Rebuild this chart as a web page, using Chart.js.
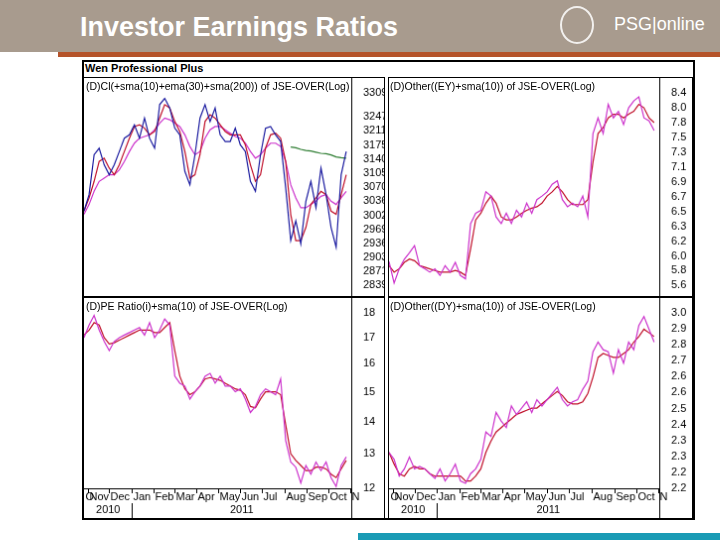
<!DOCTYPE html>
<html><head><meta charset="utf-8">
<script src="https://cdn.jsdelivr.net/npm/chart.js@4"></script>
<style>
body{margin:0;width:720px;height:540px;position:relative;background:#fff;font-family:"Liberation Sans",Arial,sans-serif;overflow:hidden}
#hdr{position:absolute;left:0;top:0;width:720px;height:52px;background:#a89b8e}
#title{position:absolute;left:80px;top:12px;color:#fff;font-weight:bold;font-size:27px}
#logo{position:absolute;left:560px;top:6px;width:30px;height:34px;border:2px solid #fff;border-radius:50%;opacity:.85}
#psg{position:absolute;left:614px;top:14px;color:#fff;font-size:18px}
#stripe{position:absolute;left:58px;top:52px;width:662px;height:5px;background:#b5532a}
#teal{position:absolute;left:358px;top:533px;width:362px;height:7px;background:#1a9bb5}
#frame{position:absolute;left:82px;top:60px;width:609px;height:456px;border:2px solid #000}
#wen{position:absolute;left:85px;top:62px;font-size:11px;font-weight:bold;color:#000}
.pc{position:absolute;border:1px solid #000;box-sizing:border-box}
.pt{position:absolute;font-size:10.5px;color:#000;white-space:nowrap}
</style></head><body>
<div id="hdr"></div><div id="title">Investor Earnings Ratios</div>
<div id="logo"></div><div id="psg">PSG<span style="font-weight:100">|</span>online</div>
<div id="stripe"></div><div id="teal"></div>
<div id="frame"></div><div id="wen">Wen Professional Plus</div>
<canvas id="c1" class="pc" style="left:83px;top:77px"></canvas>
<canvas id="c2" class="pc" style="left:388px;top:77px"></canvas>
<canvas id="c3" class="pc" style="left:83px;top:297px"></canvas>
<canvas id="c4" class="pc" style="left:388px;top:297px"></canvas>
<div class="pt" style="left:86px;top:80px">(D)Cl(+sma(10)+ema(30)+sma(200)) of JSE-OVER(Log)</div>
<div class="pt" style="left:390px;top:80px">(D)Other((EY)+sma(10)) of JSE-OVER(Log)</div>
<div class="pt" style="left:86px;top:300px">(D)PE Ratio(i)+sma(10) of JSE-OVER(Log)</div>
<div class="pt" style="left:390px;top:300px">(D)Other((DY)+sma(10)) of JSE-OVER(Log)</div>
<script>
// ---- data (weekly closes, from 27 Oct 2010) ----
const startDate = "2010-10-27";
const clClose = [30124,30521,31503,31670,31254,31007,31254,31586,31923,32008,32264,31923,32437,31923,31670,32786,32950,32700,32178,32008,31089,30763,31503,32437,32786,32350,32700,32008,31838,31838,32178,31754,31586,30844,30602,31503,32178,32221,32008,31838,30682,29424,29889,29347,30362,30844,30203,31171,30521,29733,29270,31007,31586];
const clSma10 = [30124,30441,30844,31336,31419,31171,31007,31254,31586,31923,32221,32264,32178,32008,32093,32437,32786,32700,32350,32093,31586,30925,31007,31503,32350,32524,32437,32264,32093,32008,32008,32008,31754,31254,30844,31007,31670,32008,32050,31923,31336,30045,29424,29424,29733,30282,30441,30602,30521,30124,30045,30521,31007];
const clEma30 = [30045,30282,30602,30844,30925,31007,31007,31130,31336,31586,31796,31923,31965,32008,32136,32307,32437,32394,32307,32221,32008,31712,31503,31586,31923,32136,32221,32221,32136,32050,31965,31923,31796,31586,31419,31503,31670,31796,31796,31712,31336,30763,30441,30203,30203,30282,30362,30481,30521,30362,30282,30441,30602];
const clSma200 = [null,null,null,null,null,null,null,null,null,null,null,null,null,null,null,null,null,null,null,null,null,null,null,null,null,null,null,null,null,null,null,null,null,null,null,null,null,null,null,null,null,31700,31680,31640,31610,31600,31570,31540,31530,31500,31450,31430,31420];
const eyVal = [5.89,5.63,5.80,5.92,6.00,6.09,5.84,5.80,5.76,5.80,5.72,5.84,5.76,5.88,5.72,5.68,6.38,6.52,6.56,6.82,6.76,6.47,6.38,6.52,6.38,6.56,6.47,6.66,6.52,6.71,6.76,6.82,6.93,6.98,6.71,6.61,6.66,6.61,6.76,6.47,7.71,7.97,7.71,8.20,7.97,8.08,7.86,8.14,8.26,8.33,7.97,7.92,7.76];
const eySma = [5.84,5.76,5.80,5.88,5.92,5.90,5.84,5.82,5.80,5.78,5.76,5.76,5.76,5.78,5.76,5.72,6.05,6.43,6.52,6.66,6.76,6.66,6.47,6.43,6.43,6.47,6.52,6.56,6.59,6.61,6.66,6.76,6.82,6.90,6.82,6.71,6.64,6.64,6.64,6.71,7.26,7.71,7.81,7.97,8.03,8.03,7.97,8.03,8.08,8.20,8.14,7.97,7.89];
const peVal = [17.0,17.5,17.9,17.3,16.85,16.5,16.85,17.0,17.1,17.2,17.3,17.4,17.1,17.6,17.0,17.3,17.75,17.5,15.55,15.3,15.2,14.75,15.0,15.2,15.55,15.65,15.3,15.55,15.2,15.2,15.0,15.1,14.75,14.3,14.5,14.9,15.1,15.0,14.9,15.45,13.4,12.75,12.6,12.15,12.65,12.4,12.75,12.5,12.75,12.3,12.05,12.65,12.9];
const peSma = [17.1,17.3,17.6,17.5,17.0,16.75,16.8,16.9,17.0,17.1,17.2,17.3,17.3,17.3,17.2,17.2,17.4,17.6,16.5,15.55,15.1,14.9,15.0,15.2,15.45,15.5,15.45,15.4,15.3,15.2,15.1,15.05,14.9,14.5,14.45,14.75,15.0,15.0,15.0,14.9,13.9,13.0,12.8,12.65,12.5,12.5,12.6,12.6,12.55,12.4,12.3,12.55,12.8];
const dyVal = [2.31,2.28,2.21,2.24,2.29,2.24,2.25,2.24,2.22,2.20,2.24,2.19,2.22,2.26,2.19,2.18,2.22,2.24,2.28,2.40,2.38,2.49,2.45,2.42,2.52,2.48,2.51,2.54,2.49,2.55,2.52,2.55,2.58,2.61,2.55,2.52,2.54,2.55,2.60,2.64,2.79,2.84,2.80,2.79,2.68,2.80,2.73,2.84,2.80,2.93,2.98,2.91,2.84];
const dySma = [2.31,2.26,2.22,2.21,2.24,2.25,2.24,2.24,2.22,2.21,2.21,2.21,2.21,2.21,2.21,2.19,2.19,2.21,2.24,2.31,2.36,2.40,2.42,2.44,2.46,2.48,2.49,2.50,2.51,2.51,2.53,2.55,2.57,2.59,2.57,2.54,2.53,2.53,2.54,2.58,2.66,2.76,2.78,2.77,2.76,2.76,2.78,2.80,2.84,2.87,2.91,2.89,2.87];
// tick labels
const clTicks = [33094,32470,32110,31750,31400,31050,30700,30360,30020,29690,29360,29030,28710,28391];
const eyTickLabels = ["8.4","8.0","7.8","7.5","7.3","7.1","6.9","6.7","6.5","6.3","6.2","6.0","5.8","5.6"];
const peTicks = [18,17,16,15,14,13,12];
const dyTickLabels = ["3.0","2.9","2.8","2.7","2.6","2.6","2.5","2.4","2.3","2.3","2.2","2.2"];
const monthLabels = ["O","Nov","Dec","Jan","Feb","Mar","Apr","May","Jun","Jul","Aug","Sep","Oct","N"];
const monthStarts = ["2010-10-27","2010-11-01","2010-12-01","2011-01-01","2011-02-01","2011-03-01","2011-04-01","2011-05-01","2011-06-01","2011-07-01","2011-08-01","2011-09-01","2011-10-01","2011-11-01"];
const axisEnd = "2011-11-02";

const BLUE="#1c1ca0", RED="#c0102a", MAG="#cc33cc", GREEN="#2e7d32";
const t0 = Date.parse(startDate);
const dayOf = s => (Date.parse(s)-t0)/86400000;
const weekX = i => i*7;
const FONT = {family:"Liberation Sans, Arial, sans-serif", size:11};

function pts(arr){return arr.map((v,i)=>({x:weekX(i),y:v}));}

const monthPlugin = {
  id:'months',
  afterDraw(chart){
    if(!chart.options.plugins.months || !chart.options.plugins.months.show) return;
    const ctx=chart.ctx, xs=chart.scales.x, ca=chart.chartArea, H=chart.height;
    ctx.save();
    ctx.strokeStyle="#000"; ctx.lineWidth=1; ctx.fillStyle="#000";
    ctx.font="11px Liberation Sans, Arial";
    ctx.beginPath(); ctx.moveTo(0,ca.bottom+0.5); ctx.lineTo(ca.right,ca.bottom+0.5); ctx.stroke();
    monthStarts.forEach((m,i)=>{
      const px=Math.round(xs.getPixelForValue(dayOf(m)))+0.5;
      if(i>0){ctx.beginPath();ctx.moveTo(px,ca.bottom);ctx.lineTo(px,ca.bottom+5);ctx.stroke();}
      ctx.textAlign="left"; ctx.textBaseline="top";
      ctx.fillText(monthLabels[i], px+1, ca.bottom+3);
    });
    const pJan=Math.round(xs.getPixelForValue(dayOf("2011-01-01")))+0.5;
    ctx.beginPath(); ctx.moveTo(pJan,ca.bottom+15); ctx.lineTo(pJan,H); ctx.stroke();
    ctx.textAlign="center";
    ctx.fillText("2010",(0+pJan)/2,ca.bottom+16);
    ctx.fillText("2011",(pJan+ca.right)/2,ca.bottom+16);
    ctx.restore();
  }
};
const sepPlugin = {
  id:'sep',
  afterDraw(chart){
    const ctx=chart.ctx, ca=chart.chartArea;
    ctx.save(); ctx.strokeStyle="#000"; ctx.lineWidth=1;
    const x=Math.round(ca.right)+0.5;
    ctx.beginPath(); ctx.moveTo(x,0); ctx.lineTo(x,chart.height); ctx.stroke();
    ctx.restore();
  }
};

function panel(id,w,h,sets,yMin,yMax,tickVals,tickLbls,axisW,showMonths,padTop,padBottom){
  const cv=document.getElementById(id); cv.width=w; cv.height=h; cv.style.width=w+"px"; cv.style.height=h+"px";
  new Chart(cv,{
    type:'line',
    data:{datasets:sets.map(s=>({data:pts(s.d),borderColor:s.c,borderWidth:1.2,pointRadius:0,tension:0,spanGaps:false}))},
    options:{
      responsive:false,animation:false,devicePixelRatio:1,
      layout:{padding:{top:padTop,bottom:padBottom,left:0,right:0}},
      plugins:{legend:{display:false},tooltip:{enabled:false},months:{show:showMonths}},
      scales:{
        x:{type:'linear',min:0,max:dayOf(axisEnd),display:false},
        y:{type:'logarithmic',position:'right',min:yMin,max:yMax,
           grid:{display:false},border:{display:false},
           afterBuildTicks:sc=>{sc.ticks=tickVals.map(v=>({value:v}));},
           afterFit:sc=>{sc.width=axisW;},
           ticks:{color:"#000",font:FONT,padding:4,autoSkip:false,
             callback:(v,i)=>tickLbls[i]}}
      }
    },
    plugins:[monthPlugin,sepPlugin]
  });
}
function evenLog(a,b,n){const r=[];for(let i=0;i<n;i++)r.push(a*Math.pow(b/a,i/(n-1)));return r;}

panel('c1',302,220,[{d:clClose,c:BLUE},{d:clSma10,c:RED},{d:clEma30,c:MAG},{d:clSma200,c:GREEN}],
  28391,33094,clTicks,clTicks.map(String),33,false,15,10);
panel('c2',305,220,[{d:eyVal,c:MAG},{d:eySma,c:RED}],
  5.6,8.4,evenLog(8.4,5.6,14),eyTickLabels,33,false,15,10);
panel('c3',302,222,[{d:peVal,c:MAG},{d:peSma,c:RED}],
  12,18,peTicks,peTicks.map(String),33,true,15,30);
panel('c4',305,222,[{d:dyVal,c:MAG},{d:dySma,c:RED}],
  2.16,3.0,evenLog(3.0,2.16,12),dyTickLabels,33,true,15,30);
</script>
</body></html>
